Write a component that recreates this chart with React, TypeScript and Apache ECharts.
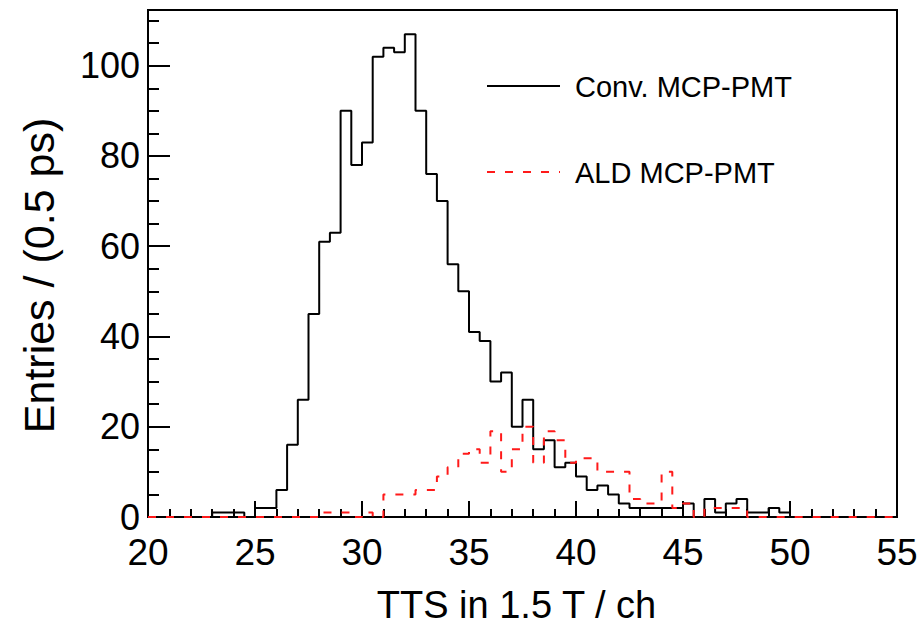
import React, { useEffect, useRef } from "react";
import * as echarts from "echarts";

// Histogram binning (x axis: TTS in 1.5 T / ch)
const binStart = 20;
const binWidth = 0.5;

// Conv. MCP-PMT entries per bin (70 bins, 20 .. 55)
const convCounts = [
  0, 0, 0, 0, 0, 0, 1, 1, 1, 0,
  2, 2, 6, 16, 26, 45, 61, 63, 90, 78,
  83, 102, 104, 103, 107, 90, 76, 70, 56, 50,
  41, 39, 30, 32, 20, 26, 15, 17, 11, 12,
  9, 6, 7, 5, 3, 2, 2, 2, 2, 2,
  3, 0, 4, 1, 3, 4, 1, 1, 2, 1,
  0, 0, 0, 0, 0, 0, 0, 0, 0, 0,
];

// ALD MCP-PMT entries per bin (70 bins, 20 .. 55)
const aldCounts = [
  0, 0, 0, 0, 0, 0, 0, 0, 0, 0,
  0, 0, 0, 0, 0, 0, 1, 1, 1, 0,
  1, 0, 5, 5, 5, 6, 6, 9, 11, 14,
  15, 12, 19, 10, 15, 20, 12, 19, 17, 12,
  13, 13, 10, 10, 10, 4, 3, 3, 10, 2,
  3, 0, 2, 2, 2, 2, 0, 0, 0, 0,
  0, 0, 0, 0, 0, 0, 0, 0, 0, 0,
];

const seriesNames = ["Conv. MCP-PMT", "ALD MCP-PMT"];
const seriesColors = ["#000000", "#ff1a1a"];
const xTitle = "TTS in 1.5 T / ch";
const yTitle = "Entries / (0.5 ps)";
const xMin = 20;
const xMax = 55;
const xStep = 5;
const yMin = 0;
const yMax = 112.35;
const yStep = 20;
const yMinorStep = 5;

function toSteps(counts: number[]): number[][] {
  const pts = counts.map((v, i) => [binStart + i * binWidth, v]);
  pts.push([binStart + counts.length * binWidth, counts[counts.length - 1]]);
  return pts;
}

const FONT = "Liberation Sans";
const DASH = [8, 10];

export default function App() {
  const ref = useRef<HTMLDivElement>(null);
  useEffect(() => {
    if (!ref.current) return;
    const chart = echarts.init(ref.current, undefined, { renderer: "svg" });
    const legendX = 487;
    const legendY = [86, 172];
    chart.setOption({
      animation: false,
      backgroundColor: "#ffffff",
      textStyle: { fontFamily: FONT },
      grid: {
        left: 148,
        top: 10,
        width: 749,
        height: 523,
        show: true,
        borderColor: "#000",
        borderWidth: 2,
        backgroundColor: "transparent",
        containLabel: false,
      },
      graphic: seriesNames.flatMap((name, i) => [
        {
          type: "line",
          shape: { x1: legendX, y1: legendY[i], x2: legendX + 73, y2: legendY[i] },
          style: {
            stroke: seriesColors[i],
            lineWidth: 2,
            lineDash: i === 1 ? DASH : null,
          },
        },
        {
          type: "text",
          x: legendX + 88,
          y: legendY[i] + 1,
          style: {
            text: name,
            fontFamily: FONT,
            fontSize: 29,
            fill: "#000",
            verticalAlign: "middle",
          },
        },
      ]),
      xAxis: {
        type: "value",
        min: xMin,
        max: xMax,
        interval: xStep,
        name: xTitle,
        nameLocation: "middle",
        nameGap: 69,
        nameTextStyle: { fontFamily: FONT, fontSize: 38, color: "#000", padding: [0, 12, 0, 0] },
        axisLine: { show: true, onZero: false, lineStyle: { color: "#000", width: 2 } },
        axisTick: { show: true, inside: true, length: 16, lineStyle: { color: "#000", width: 2 } },
        minorTick: { show: true, splitNumber: 5, length: 8, lineStyle: { color: "#000", width: 2 } },
        axisLabel: { fontFamily: FONT, fontSize: 37, color: "#000", margin: 17 },
        splitLine: { show: false },
      },
      yAxis: [
        {
          type: "value",
          position: "left",
          min: yMin,
          max: yMax,
          interval: yStep,
          name: yTitle,
          nameLocation: "middle",
          nameGap: 88,
          nameTextStyle: { fontFamily: FONT, fontSize: 43, color: "#000", padding: [0, 24, 0, 0] },
          axisLine: { show: true, onZero: false, lineStyle: { color: "#000", width: 2 } },
          axisTick: { show: true, inside: true, length: 22, lineStyle: { color: "#000", width: 2 } },
          axisLabel: {
            fontFamily: FONT,
            fontSize: 36,
            color: "#000",
            margin: 8,
            showMaxLabel: false,
            formatter: (v: number) => (v % yStep === 0 ? String(v) : ""),
          },
          splitLine: { show: false },
        },
        {
          type: "value",
          position: "left",
          min: yMin,
          max: yMax,
          interval: yMinorStep,
          axisLine: { show: false },
          axisTick: { show: true, inside: true, length: 11, lineStyle: { color: "#000", width: 2 } },
          axisLabel: { show: false },
          splitLine: { show: false },
        },
      ],
      series: [
        {
          name: seriesNames[0],
          type: "line",
          step: "end",
          data: toSteps(convCounts),
          showSymbol: false,
          symbol: "none",
          lineStyle: { color: seriesColors[0], width: 2 },
          itemStyle: { color: seriesColors[0] },
          z: 3,
        },
        {
          name: seriesNames[1],
          type: "line",
          step: "end",
          data: toSteps(aldCounts),
          showSymbol: false,
          symbol: "none",
          lineStyle: { color: seriesColors[1], width: 2, type: DASH },
          itemStyle: { color: seriesColors[1] },
          z: 4,
        },
      ],
    });
    return () => chart.dispose();
  }, []);
  return (
    <div
      ref={ref}
      style={{ position: "absolute", left: 0, top: 0, width: 921, height: 629 }}
    />
  );
}
